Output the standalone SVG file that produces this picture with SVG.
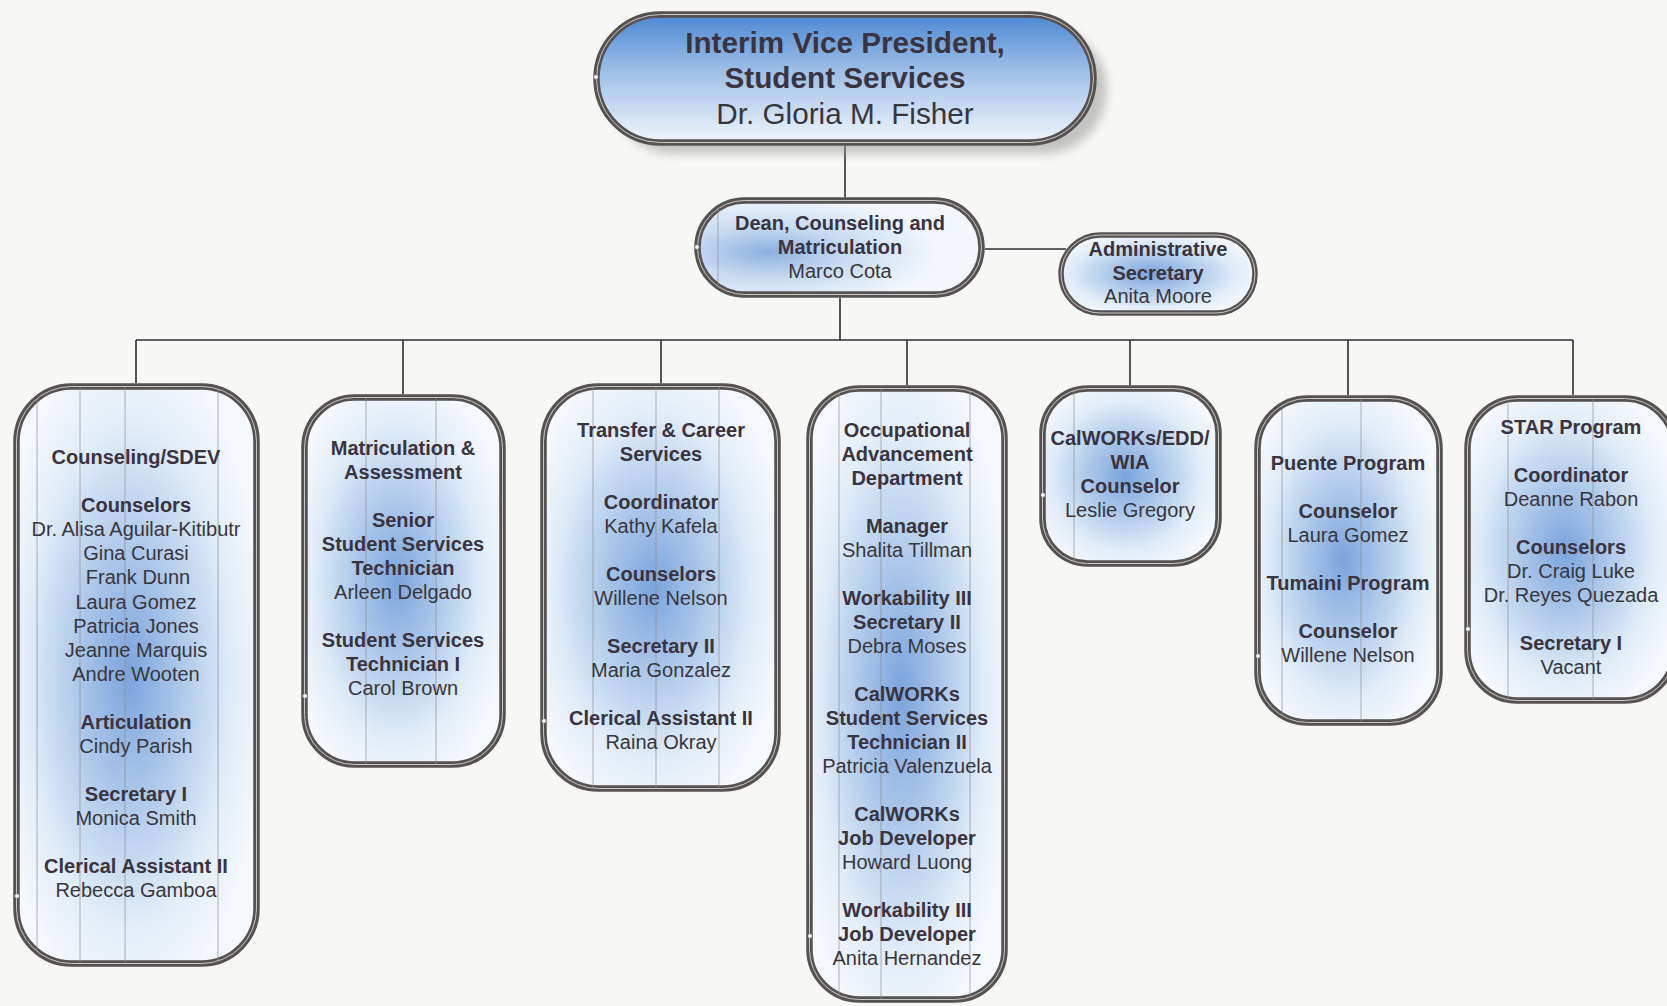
<svg xmlns="http://www.w3.org/2000/svg" xmlns:xlink="http://www.w3.org/1999/xlink" width="1667" height="1006" viewBox="0 0 1667 1006">
  <style>
    .frame { stroke: #575252; stroke-width: 6.5; }
    .rule { fill: none; stroke: #c9c6c6; stroke-width: 1; }
    .seam { stroke: #8f8c8c; stroke-width: 0.9; opacity: 0.75; }
    .conn { fill: none; stroke: #2f2b2e; stroke-width: 1.6; }
    .pin { fill: #ffffff; stroke: #777; stroke-width: 0.6; }
    text { font-family: "Liberation Sans", Arial, sans-serif; text-anchor: middle; font-size: 20px; }
    .b { font-weight: bold; fill: #3a3340; }
    .r { fill: #38363c; }
    .big { font-size: 29.7px; }
  </style>
  <defs>
    <linearGradient id="gTop" x1="0" y1="0" x2="0" y2="1">
      <stop offset="0" stop-color="#4c88d2"/>
      <stop offset="0.45" stop-color="#9fc0e8"/>
      <stop offset="1" stop-color="#f1f5fb"/>
    </linearGradient>
    <radialGradient id="gBlob" cx="0.47" cy="0.5" r="0.58">
      <stop offset="0" stop-color="#7ba4dc"/>
      <stop offset="0.35" stop-color="#a9c6ea"/>
      <stop offset="0.75" stop-color="#e3edf8"/>
      <stop offset="1" stop-color="#f5f8fc"/>
    </radialGradient>
    <radialGradient id="gDean" cx="0.25" cy="0.55" r="0.6">
      <stop offset="0" stop-color="#8cb0e0"/>
      <stop offset="0.45" stop-color="#c6daf1"/>
      <stop offset="1" stop-color="#f3f7fc"/>
    </radialGradient>
    <filter id="soft" x="-10%" y="-20%" width="120%" height="140%">
      <feGaussianBlur stdDeviation="5"/>
    </filter>

    <!-- node outlines, shared by the frame and its clip -->
    <rect id="rTop" x="596.5" y="14.5" width="497" height="128" rx="64"/>
    <rect id="rDean" x="697.5" y="200.5" width="284" height="94" rx="47"/>
    <rect id="rAdmin" x="1061" y="235" width="194" height="78" rx="39"/>
    <rect id="rCouns" x="16.5" y="386.5" width="240" height="577" rx="55"/>
    <rect id="rMatric" x="304.5" y="397.5" width="198" height="367" rx="50"/>
    <rect id="rTransfer" x="543.5" y="386.5" width="234" height="402" rx="55"/>
    <rect id="rOcc" x="809.5" y="388.5" width="195" height="611" rx="50"/>
    <rect id="rCalworks" x="1042.5" y="388.5" width="176" height="175" rx="45"/>
    <rect id="rPuente" x="1257.5" y="398.5" width="182" height="324" rx="50"/>
    <rect id="rStar" x="1467.5" y="398.5" width="207" height="302" rx="50"/>

    <clipPath id="cDean"><use xlink:href="#rDean"/></clipPath>
    <clipPath id="cCouns"><use xlink:href="#rCouns"/></clipPath>
    <clipPath id="cMatric"><use xlink:href="#rMatric"/></clipPath>
    <clipPath id="cTransfer"><use xlink:href="#rTransfer"/></clipPath>
    <clipPath id="cOcc"><use xlink:href="#rOcc"/></clipPath>
    <clipPath id="cCalworks"><use xlink:href="#rCalworks"/></clipPath>
    <clipPath id="cPuente"><use xlink:href="#rPuente"/></clipPath>
    <clipPath id="cStar"><use xlink:href="#rStar"/></clipPath>
  </defs>

  <rect x="0" y="0" width="1667" height="1006" fill="#f7f7f5"/>

  <!-- reporting lines -->
  <g id="connectors">
    <path class="conn" d="M845 146 V197"/>
    <path class="conn" d="M985 249 H1066"/>
    <path class="conn" d="M840 298 V340"/>
    <path class="conn" d="M136 340 H1573"/>
    <path class="conn" d="M136 340 V383"/>
    <path class="conn" d="M403 340 V394"/>
    <path class="conn" d="M661 340 V383"/>
    <path class="conn" d="M907 340 V385"/>
    <path class="conn" d="M1130 340 V385"/>
    <path class="conn" d="M1348 340 V395"/>
    <path class="conn" d="M1573 340 V395"/>
  </g>

  <g id="vp">
    <rect x="610" y="26" width="497" height="128" rx="64" fill="#9a9a9a" opacity="0.55" filter="url(#soft)"/>
    <use xlink:href="#rTop" class="frame" fill="url(#gTop)"/>
    <use xlink:href="#rTop" class="rule"/>
    <circle class="pin" cx="596" cy="77" r="2.2"/>
    <text class="b big" x="845" y="53">Interim Vice President,</text>
    <text class="b big" x="845" y="88">Student Services</text>
    <text class="r big" x="845" y="124">Dr. Gloria M. Fisher</text>
  </g>

  <g id="dean">
    <use xlink:href="#rDean" class="frame" fill="url(#gDean)"/>
    <g clip-path="url(#cDean)"><line class="seam" x1="718" y1="190" x2="718" y2="300"/></g>
    <use xlink:href="#rDean" class="rule"/>
    <circle class="pin" cx="697" cy="247" r="2.2"/>
    <text class="b" x="840" y="230">Dean, Counseling and</text>
    <text class="b" x="840" y="254">Matriculation</text>
    <text class="r" x="840" y="278">Marco Cota</text>
  </g>

  <g id="admin-secretary">
    <use xlink:href="#rAdmin" class="frame" fill="url(#gBlob)" style="stroke-width:5.5"/>
    <use xlink:href="#rAdmin" class="rule"/>
    <text class="b" x="1158" y="256">Administrative</text>
    <text class="b" x="1158" y="280">Secretary</text>
    <text class="r" x="1158" y="303">Anita Moore</text>
  </g>

  <g id="counseling">
    <use xlink:href="#rCouns" class="frame" fill="url(#gBlob)"/>
    <g clip-path="url(#cCouns)">
      <line class="seam" x1="37" y1="380" x2="37" y2="970"/>
      <line class="seam" x1="80" y1="380" x2="80" y2="970"/>
      <line class="seam" x1="125" y1="380" x2="125" y2="970"/>
      <line class="seam" x1="218" y1="380" x2="218" y2="970"/>
    </g>
    <use xlink:href="#rCouns" class="rule"/>
    <circle class="pin" cx="17" cy="896" r="2.2"/>
    <text class="b" x="136" y="464">Counseling/SDEV</text>
    <text class="b" x="136" y="512">Counselors</text>
    <text class="r" x="136" y="536">Dr. Alisa Aguilar-Kitibutr</text>
    <text class="r" x="136" y="560">Gina Curasi</text>
    <text class="r" x="138" y="584">Frank Dunn</text>
    <text class="r" x="136" y="609">Laura Gomez</text>
    <text class="r" x="136" y="633">Patricia Jones</text>
    <text class="r" x="136" y="657">Jeanne Marquis</text>
    <text class="r" x="136" y="681">Andre Wooten</text>
    <text class="b" x="136" y="729">Articulation</text>
    <text class="r" x="136" y="753">Cindy Parish</text>
    <text class="b" x="136" y="801">Secretary I</text>
    <text class="r" x="136" y="825">Monica Smith</text>
    <text class="b" x="136" y="873">Clerical Assistant II</text>
    <text class="r" x="136" y="897">Rebecca Gamboa</text>
  </g>

  <g id="matriculation">
    <use xlink:href="#rMatric" class="frame" fill="url(#gBlob)"/>
    <g clip-path="url(#cMatric)">
      <line class="seam" x1="366" y1="390" x2="366" y2="770"/>
      <line class="seam" x1="436" y1="390" x2="436" y2="770"/>
    </g>
    <use xlink:href="#rMatric" class="rule"/>
    <circle class="pin" cx="305" cy="696" r="2.2"/>
    <text class="b" x="403" y="455">Matriculation &amp;</text>
    <text class="b" x="403" y="479">Assessment</text>
    <text class="b" x="403" y="527">Senior</text>
    <text class="b" x="403" y="551">Student Services</text>
    <text class="b" x="403" y="575">Technician</text>
    <text class="r" x="403" y="599">Arleen Delgado</text>
    <text class="b" x="403" y="647">Student Services</text>
    <text class="b" x="403" y="671">Technician I</text>
    <text class="r" x="403" y="695">Carol Brown</text>
  </g>

  <g id="transfer-career">
    <use xlink:href="#rTransfer" class="frame" fill="url(#gBlob)"/>
    <g clip-path="url(#cTransfer)">
      <line class="seam" x1="593" y1="380" x2="593" y2="795"/>
      <line class="seam" x1="656" y1="380" x2="656" y2="795"/>
      <line class="seam" x1="719" y1="380" x2="719" y2="795"/>
    </g>
    <use xlink:href="#rTransfer" class="rule"/>
    <circle class="pin" cx="544" cy="721" r="2.2"/>
    <text class="b" x="661" y="437">Transfer &amp; Career</text>
    <text class="b" x="661" y="461">Services</text>
    <text class="b" x="661" y="509">Coordinator</text>
    <text class="r" x="661" y="533">Kathy Kafela</text>
    <text class="b" x="661" y="581">Counselors</text>
    <text class="r" x="661" y="605">Willene Nelson</text>
    <text class="b" x="661" y="653">Secretary II</text>
    <text class="r" x="661" y="677">Maria Gonzalez</text>
    <text class="b" x="661" y="725">Clerical Assistant II</text>
    <text class="r" x="661" y="749">Raina Okray</text>
  </g>

  <g id="occupational">
    <use xlink:href="#rOcc" class="frame" fill="url(#gBlob)"/>
    <g clip-path="url(#cOcc)">
      <line class="seam" x1="839" y1="380" x2="839" y2="1006"/>
      <line class="seam" x1="881" y1="380" x2="881" y2="1006"/>
      <line class="seam" x1="970" y1="380" x2="970" y2="1006"/>
    </g>
    <use xlink:href="#rOcc" class="rule"/>
    <circle class="pin" cx="810" cy="936" r="2.2"/>
    <text class="b" x="907" y="437">Occupational</text>
    <text class="b" x="907" y="461">Advancement</text>
    <text class="b" x="907" y="485">Department</text>
    <text class="b" x="907" y="533">Manager</text>
    <text class="r" x="907" y="557">Shalita Tillman</text>
    <text class="b" x="907" y="605">Workability III</text>
    <text class="b" x="907" y="629">Secretary II</text>
    <text class="r" x="907" y="653">Debra Moses</text>
    <text class="b" x="907" y="701">CalWORKs</text>
    <text class="b" x="907" y="725">Student Services</text>
    <text class="b" x="907" y="749">Technician II</text>
    <text class="r" x="907" y="773">Patricia Valenzuela</text>
    <text class="b" x="907" y="821">CalWORKs</text>
    <text class="b" x="907" y="845">Job Developer</text>
    <text class="r" x="907" y="869">Howard Luong</text>
    <text class="b" x="907" y="917">Workability III</text>
    <text class="b" x="907" y="941">Job Developer</text>
    <text class="r" x="907" y="965">Anita Hernandez</text>
  </g>

  <g id="calworks">
    <use xlink:href="#rCalworks" class="frame" fill="url(#gBlob)"/>
    <g clip-path="url(#cCalworks)">
      <line class="seam" x1="1074" y1="380" x2="1074" y2="570"/>
    </g>
    <use xlink:href="#rCalworks" class="rule"/>
    <circle class="pin" cx="1043" cy="495" r="2.2"/>
    <text class="b" x="1130" y="445">CalWORKs/EDD/</text>
    <text class="b" x="1130" y="469">WIA</text>
    <text class="b" x="1130" y="493">Counselor</text>
    <text class="r" x="1130" y="517">Leslie Gregory</text>
  </g>

  <g id="puente-tumaini">
    <use xlink:href="#rPuente" class="frame" fill="url(#gBlob)"/>
    <g clip-path="url(#cPuente)">
      <line class="seam" x1="1282" y1="390" x2="1282" y2="730"/>
      <line class="seam" x1="1361" y1="390" x2="1361" y2="730"/>
    </g>
    <use xlink:href="#rPuente" class="rule"/>
    <circle class="pin" cx="1258" cy="656" r="2.2"/>
    <text class="b" x="1348" y="470">Puente Program</text>
    <text class="b" x="1348" y="518">Counselor</text>
    <text class="r" x="1348" y="542">Laura Gomez</text>
    <text class="b" x="1348" y="590">Tumaini Program</text>
    <text class="b" x="1348" y="638">Counselor</text>
    <text class="r" x="1348" y="662">Willene Nelson</text>
  </g>

  <g id="star">
    <use xlink:href="#rStar" class="frame" fill="url(#gBlob)"/>
    <g clip-path="url(#cStar)">
      <line class="seam" x1="1508" y1="390" x2="1508" y2="710"/>
      <line class="seam" x1="1593" y1="390" x2="1593" y2="710"/>
    </g>
    <use xlink:href="#rStar" class="rule"/>
    <circle class="pin" cx="1468" cy="629" r="2.2"/>
    <text class="b" x="1571" y="434">STAR Program</text>
    <text class="b" x="1571" y="482">Coordinator</text>
    <text class="r" x="1571" y="506">Deanne Rabon</text>
    <text class="b" x="1571" y="554">Counselors</text>
    <text class="r" x="1571" y="578">Dr. Craig Luke</text>
    <text class="r" x="1571" y="602">Dr. Reyes Quezada</text>
    <text class="b" x="1571" y="650">Secretary I</text>
    <text class="r" x="1571" y="674">Vacant</text>
  </g>
</svg>
